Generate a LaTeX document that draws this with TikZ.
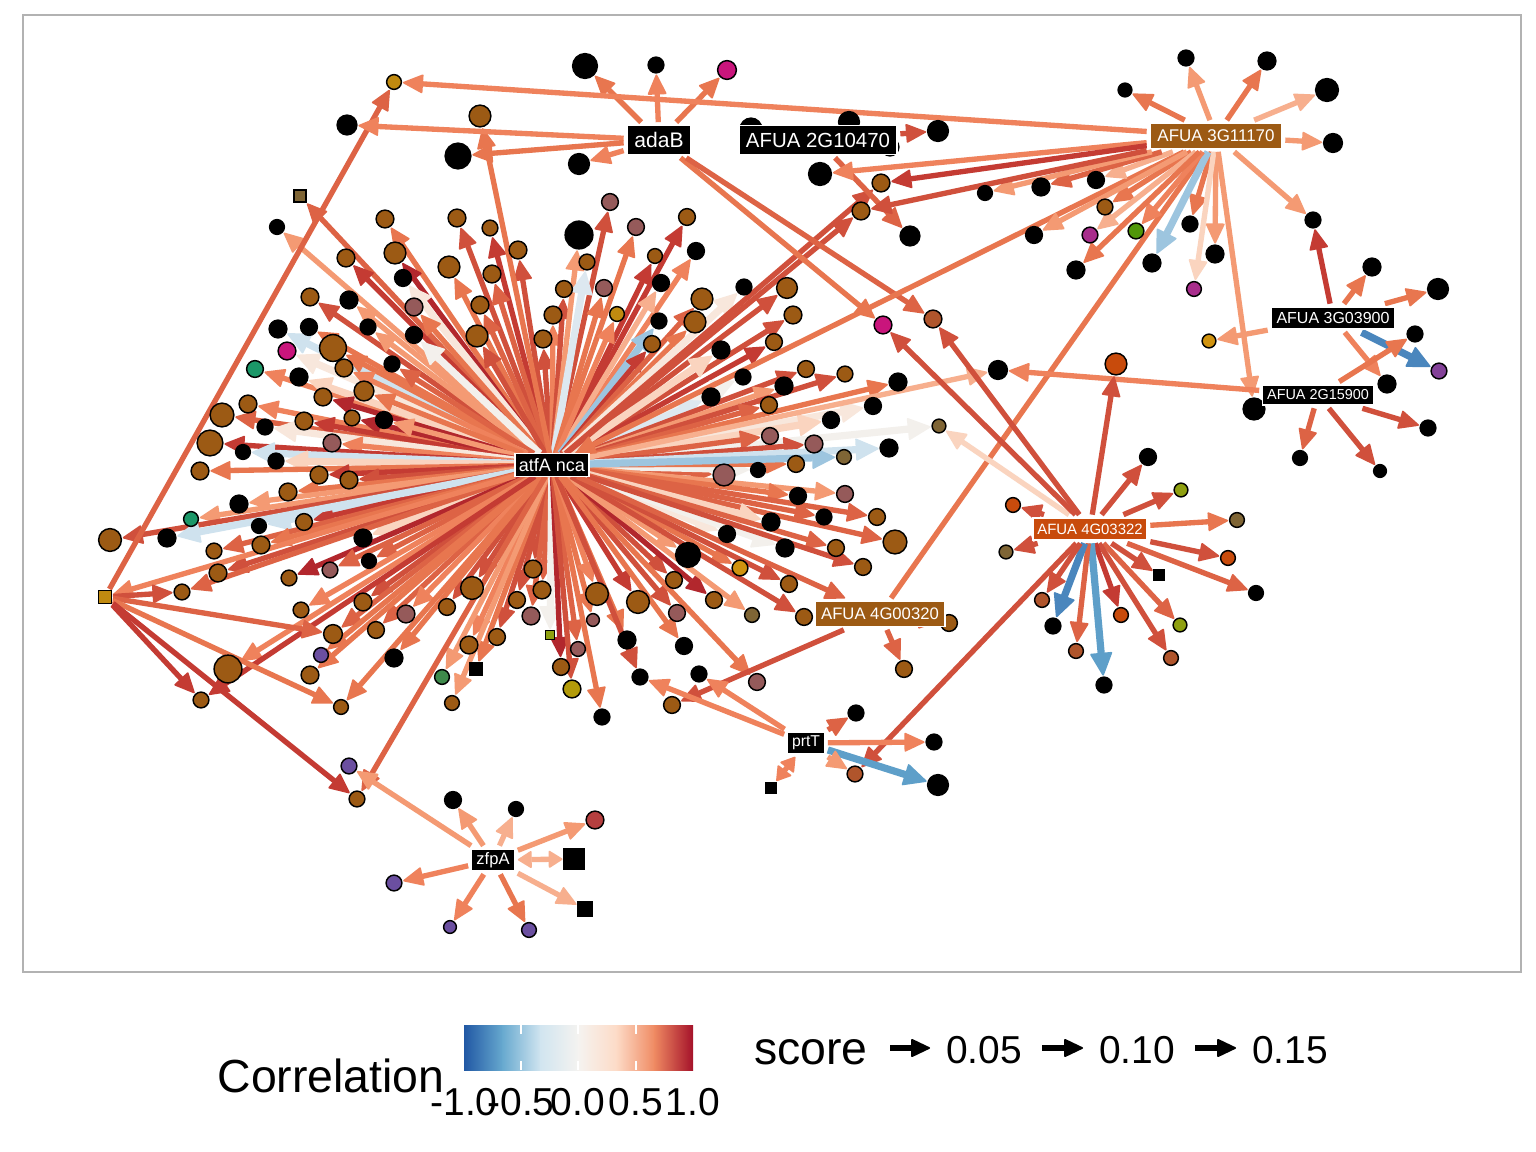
\documentclass[tikz,border=0pt]{standalone}
\usepackage{fontspec}
\setmainfont{Liberation Sans}
\usetikzlibrary{arrows.meta,backgrounds}

% edge colours
\definecolor{rd1}{HTML}{B2272D}
\definecolor{rd2}{HTML}{C43B33}
\definecolor{rd3}{HTML}{D0503C}
\definecolor{rd4}{HTML}{DD6345}
\definecolor{rd5}{HTML}{E8764F}
\definecolor{rd6}{HTML}{EF825C}
\definecolor{rd7}{HTML}{F49A73}
\definecolor{rd8}{HTML}{F7AF8E}
\definecolor{rd9}{HTML}{FAD4BF}
\definecolor{rd10}{HTML}{F8E7DC}
\definecolor{rd11}{HTML}{F3F0EC}
\definecolor{bl1}{HTML}{DDE8F0}
\definecolor{bl2}{HTML}{CFE2EE}
\definecolor{bl3}{HTML}{9DC5DF}
\definecolor{bl4}{HTML}{5E9FC9}
\definecolor{bl5}{HTML}{4A86BD}
% colour bar stops
\definecolor{cb1}{HTML}{2158A4}
\definecolor{cb2}{HTML}{67A9CF}
\definecolor{cb3}{HTML}{D1E5F0}
\definecolor{cb4}{HTML}{F5F3F0}
\definecolor{cb5}{HTML}{FDDBC7}
\definecolor{cb6}{HTML}{EF8A62}
\definecolor{cb7}{HTML}{A5122A}
% node colours
\definecolor{nbr}{HTML}{9C5A14}
\definecolor{nma}{HTML}{955A5A}
\definecolor{nmg}{HTML}{C9157C}
\definecolor{ngr}{HTML}{1B9768}
\definecolor{ngs}{HTML}{3E8A4B}
\definecolor{npu}{HTML}{6B4FA0}
\definecolor{nvi}{HTML}{A82D8C}
\definecolor{nor}{HTML}{C84B0C}
\definecolor{nrs}{HTML}{B0552C}
\definecolor{nol}{HTML}{8FA010}
\definecolor{nta}{HTML}{7F6535}
\definecolor{nam}{HTML}{C08A10}
\definecolor{nye}{HTML}{B39B09}
\definecolor{ngd}{HTML}{D0930F}

\tikzset{
  leaf/.style={circle, draw=black, fill=#1, line width=1.1pt, inner sep=0pt, outer sep=1.2pt},
  sqleaf/.style={rectangle, draw=black, fill=#1, line width=1.1pt, inner sep=0pt, outer sep=1.2pt},
  sz/.style={minimum size=#1*0.75pt+1.3pt},
  hub/.style={rectangle, fill=#1, draw=white, line width=0.8pt, text=white, inner sep=0pt, outer sep=2.5pt},
  box/.style 2 args={minimum width=#1*0.75pt+1.5pt, minimum height=#2*0.75pt+1.5pt},
  fs/.style={font=\fontsize{#1}{#1}\selectfont},
  ed/.style={draw=#1, line width=4pt, -{Triangle[length=16pt,width=14.5pt,line width=1.3pt,round]}},
  eb/.style={draw=#1, line width=5.4pt, -{Triangle[length=18pt,width=17pt,line width=1.3pt,round]}},
  both/.style={{Triangle[length=11pt,width=13.5pt,line width=1.3pt,round]}-{Triangle[length=11pt,width=13.5pt,line width=1.3pt,round]}},
  keyarrow/.style={draw=black, line width=3.8pt, -{Triangle[length=15pt,width=14pt,line width=1.3pt,round]}},
  barshade/.style 2 args={left color=#1, right color=#2},
  barmark/.style={white, line width=0.8pt},
  legendtext/.style={fs=#1, inner sep=0pt}
}

\begin{document}
\begin{tikzpicture}[x=0.75pt, y=-0.75pt]
    \useasboundingbox (0,0) rectangle (1536,1152);

    % atfA nca targets, upper left
    \node (n1) [sqleaf=nta, sz=10] at (300,196) {};
    \node (n2) [leaf=black, sz=13] at (277,227) {};
    \node (n3) [leaf=nbr, sz=16] at (385,219) {};
    \node (n4) [leaf=nbr, sz=16] at (457,218) {};
    \node (n5) [leaf=nbr, sz=14] at (490,228) {};
    \node (n6) [leaf=nbr, sz=16] at (518,250) {};
    \node (n7) [leaf=nbr, sz=16] at (346,258) {};
    \node (n8) [leaf=nbr, sz=20] at (395,253) {};
    \node (n9) [leaf=nbr, sz=20] at (449,267) {};
    \node (n10) [leaf=nbr, sz=16] at (492,274) {};
    \node (n11) [leaf=black, sz=15] at (403,278) {};
    \node (n12) [leaf=nbr, sz=16] at (310,297) {};
    \node (n13) [leaf=black, sz=16] at (349,300) {};
    \node (n14) [leaf=nma, sz=16] at (414,307) {};
    \node (n15) [leaf=nbr, sz=16] at (480,305) {};
    \node (n16) [leaf=nbr, sz=20] at (477,336) {};
    \node (n17) [leaf=nbr, sz=16] at (543,339) {};
    \node (n18) [leaf=nbr, sz=16] at (553,315) {};
    \node (n19) [leaf=nbr, sz=15] at (564,289) {};
    \node (n20) [leaf=black, sz=16] at (278,329) {};
    \node (n21) [leaf=black, sz=15] at (309,327) {};
    \node (n22) [leaf=black, sz=14] at (368,327) {};
    \node (n23) [leaf=nbr, sz=25] at (333,348) {};
    \node (n24) [leaf=black, sz=15] at (414,335) {};
    \node (n25) [leaf=black, sz=14] at (392,364) {};
    \node (n26) [leaf=nmg, sz=16] at (287,351) {};
    \node (n27) [leaf=nbr, sz=16] at (344,368) {};
    \node (n28) [leaf=ngr, sz=15] at (255,369) {};
    \node (n29) [leaf=black, sz=16] at (299,377) {};
    \node (n30) [leaf=nbr, sz=16] at (323,397) {};
    \node (n31) [leaf=nbr, sz=18] at (364,391) {};
    \node (n32) [leaf=nbr, sz=16] at (248,404) {};
    \node (n33) [leaf=nbr, sz=22] at (222,415) {};
    \node (n34) [leaf=nbr, sz=14] at (352,418) {};
    \node (n35) [leaf=black, sz=15] at (384,420) {};
    \node (n36) [leaf=nbr, sz=16] at (304,421) {};
    \node (n37) [leaf=black, sz=14] at (265,427) {};
    \node (n38) [leaf=nma, sz=16] at (332,443) {};
    \node (n39) [leaf=nbr, sz=24] at (210,443) {};
    \node (n40) [leaf=black, sz=13] at (243,452) {};
    \node (n41) [leaf=black, sz=14] at (276,461) {};
    \node (n42) [leaf=nbr, sz=16] at (200,471) {};

    % atfA nca targets, lower left
    \node (n43) [leaf=nbr, sz=16] at (319,475) {};
    \node (n44) [leaf=nbr, sz=16] at (349,480) {};
    \node (n45) [leaf=nbr, sz=16] at (288,492) {};
    \node (n46) [leaf=black, sz=16] at (239,504) {};
    \node (n47) [leaf=ngr, sz=13] at (191,519) {};
    \node (n48) [leaf=black, sz=13] at (259,526) {};
    \node (n49) [leaf=nbr, sz=15] at (304,522) {};
    \node (n50) [leaf=nbr, sz=21] at (110,540) {};
    \node (n51) [leaf=black, sz=16] at (167,538) {};
    \node (n52) [leaf=nbr, sz=14] at (214,551) {};
    \node (n53) [leaf=nbr, sz=16] at (261,545) {};
    \node (n54) [leaf=black, sz=16] at (363,538) {};
    \node (n55) [leaf=nbr, sz=16] at (218,573) {};
    \node (n56) [leaf=nbr, sz=14] at (182,592) {};
    \node (n57) [leaf=nbr, sz=14] at (289,578) {};
    \node (n58) [leaf=nma, sz=14] at (330,570) {};
    \node (n59) [leaf=black, sz=13] at (369,561) {};
    \node (n60) [leaf=nbr, sz=14] at (301,610) {};
    \node (n61) [leaf=nbr, sz=16] at (363,602) {};
    \node (n62) [leaf=nbr, sz=17] at (333,634) {};
    \node (n63) [leaf=nbr, sz=15] at (376,630) {};
    \node (n64) [leaf=nma, sz=16] at (406,614) {};
    \node (n65) [leaf=nbr, sz=15] at (447,607) {};
    \node (n66) [leaf=nbr, sz=21] at (472,588) {};
    \node (n67) [leaf=nbr, sz=16] at (533,569) {};
    \node (n68) [leaf=nbr, sz=16] at (542,590) {};
    \node (n69) [leaf=nbr, sz=15] at (517,600) {};
    \node (n70) [leaf=nma, sz=16] at (531,616) {};
    \node (n71) [leaf=nbr, sz=15] at (497,637) {};
    \node (n72) [leaf=nbr, sz=16] at (469,645) {};
    \node (n73) [leaf=npu, sz=13] at (321,655) {};
    \node (n74) [leaf=nbr, sz=16] at (310,675) {};
    \node (n75) [leaf=black, sz=16] at (394,658) {};
    \node (n76) [leaf=nbr, sz=26] at (228,669) {};
    \node (n77) [leaf=nbr, sz=14] at (201,700) {};
    \node (n78) [leaf=nbr, sz=13] at (341,707) {};
    \node (n79) [leaf=ngs, sz=13] at (442,677) {};
    \node (n80) [sqleaf=black, sz=10] at (476,669) {};
    \node (n81) [leaf=nbr, sz=13] at (452,703) {};
    \node (n82) [sqleaf=nol, sz=7] at (550,635) {};
    \node (n83) [leaf=nbr, sz=15] at (561,667) {};
    \node (n84) [leaf=nma, sz=13] at (578,649) {};
    \node (n85) [leaf=nma, sz=11] at (593,620) {};
    \node (n86) [leaf=nye, sz=16] at (572,689) {};
    \node (n87) [leaf=black, sz=14] at (602,717) {};
    \node (n88) [leaf=nbr, sz=21] at (597,594) {};
    \node (n89) [leaf=nbr, sz=21] at (638,602) {};
    \node (n90) [leaf=black, sz=16] at (627,640) {};
    \node (n91) [leaf=black, sz=14] at (640,677) {};
    \node (n92) [leaf=nbr, sz=14] at (357,799) {};

    % atfA nca targets, lower right
    \node (n93) [leaf=nma, sz=20] at (724,475) {};
    \node (n94) [leaf=black, sz=13] at (758,470) {};
    \node (n95) [leaf=nbr, sz=15] at (796,464) {};
    \node (n96) [leaf=nma, sz=15] at (845,494) {};
    \node (n97) [leaf=black, sz=15] at (798,496) {};
    \node (n98) [leaf=nbr, sz=15] at (877,517) {};
    \node (n99) [leaf=black, sz=14] at (824,517) {};
    \node (n100) [leaf=nbr, sz=22] at (895,542) {};
    \node (n101) [leaf=black, sz=16] at (771,522) {};
    \node (n102) [leaf=black, sz=15] at (727,534) {};
    \node (n103) [leaf=black, sz=16] at (785,548) {};
    \node (n104) [leaf=nbr, sz=15] at (836,548) {};
    \node (n105) [leaf=nbr, sz=15] at (863,567) {};
    \node (n106) [leaf=ngd, sz=14] at (740,568) {};
    \node (n107) [leaf=nbr, sz=15] at (789,584) {};
    \node (n108) [leaf=black, sz=23] at (688,555) {};
    \node (n109) [leaf=nbr, sz=15] at (674,580) {};
    \node (n110) [leaf=nbr, sz=15] at (714,600) {};
    \node (n111) [leaf=nta, sz=13] at (752,615) {};
    \node (n112) [leaf=nbr, sz=15] at (804,617) {};
    \node (n113) [leaf=nma, sz=15] at (677,613) {};
    \node (n114) [leaf=black, sz=15] at (684,646) {};
    \node (n115) [leaf=nma, sz=15] at (757,682) {};

    % atfA nca targets, upper right
    \node (n116) [leaf=nma, sz=15] at (610,202) {};
    \node (n117) [leaf=black, sz=26] at (579,235) {};
    \node (n118) [leaf=nma, sz=15] at (636,227) {};
    \node (n119) [leaf=nbr, sz=15] at (687,217) {};
    \node (n120) [leaf=nbr, sz=13] at (655,256) {};
    \node (n121) [leaf=black, sz=15] at (696,251) {};
    \node (n122) [leaf=nbr, sz=14] at (587,262) {};
    \node (n123) [leaf=black, sz=15] at (661,283) {};
    \node (n124) [leaf=nma, sz=15] at (604,288) {};
    \node (n125) [leaf=nam, sz=13] at (617,314) {};
    \node (n126) [leaf=black, sz=14] at (659,321) {};
    \node (n127) [leaf=nbr, sz=15] at (652,344) {};
    \node (n128) [leaf=nbr, sz=20] at (702,299) {};
    \node (n129) [leaf=nbr, sz=20] at (695,322) {};
    \node (n130) [leaf=black, sz=14] at (744,287) {};
    \node (n131) [leaf=nbr, sz=19] at (787,288) {};
    \node (n132) [leaf=nbr, sz=16] at (793,315) {};
    \node (n133) [leaf=nbr, sz=15] at (774,342) {};
    \node (n134) [leaf=black, sz=16] at (721,350) {};
    \node (n135) [leaf=black, sz=14] at (743,377) {};
    \node (n136) [leaf=black, sz=16] at (711,397) {};
    \node (n137) [leaf=nbr, sz=15] at (806,369) {};
    \node (n138) [leaf=black, sz=16] at (784,386) {};
    \node (n139) [leaf=nbr, sz=14] at (845,374) {};
    \node (n140) [leaf=nbr, sz=15] at (769,405) {};
    \node (n141) [leaf=black, sz=16] at (898,382) {};
    \node (n142) [leaf=black, sz=15] at (873,406) {};
    \node (n143) [leaf=black, sz=15] at (831,420) {};
    \node (n144) [leaf=nta, sz=12] at (939,426) {};
    \node (n145) [leaf=nma, sz=15] at (770,436) {};
    \node (n146) [leaf=nma, sz=16] at (814,444) {};
    \node (n147) [leaf=black, sz=16] at (889,448) {};
    \node (n148) [leaf=nta, sz=13] at (844,457) {};
    \node (n149) [leaf=black, sz=17] at (998,370) {};
    \node (n150) [leaf=nbr, sz=16] at (861,211) {};
    \node (n151) [leaf=nbr, sz=16] at (881,183) {};
    \node (n152) [leaf=nbr, sz=20] at (480,116) {};
    \node (sqA) [sqleaf=nam, sz=11] at (105,597) {};

    % adaB targets
    \node (d1) [leaf=black, sz=23] at (585,66) {};
    \node (d2) [leaf=black, sz=14] at (656,65) {};
    \node (d3) [leaf=nmg, sz=17] at (727,70) {};
    \node (d4) [leaf=black, sz=18] at (347,125) {};
    \node (d5) [leaf=black, sz=24] at (458,156) {};
    \node (d6) [leaf=black, sz=19] at (579,164) {};
    \node (d7) [leaf=nmg, sz=16] at (883,325) {};
    \node (d8) [leaf=nrs, sz=16] at (933,319) {};

    % AFUA 2G10470 targets
    \node (e1) [leaf=black, sz=20] at (751,129) {};
    \node (e2) [leaf=black, sz=19] at (849,122) {};
    \node (e3) [leaf=black, sz=16] at (890,147) {};
    \node (e4) [leaf=black, sz=19] at (938,131) {};
    \node (e5) [leaf=black, sz=18] at (910,236) {};

    % AFUA 3G11170 targets
    \node (f1) [leaf=nam, sz=13] at (394,82) {};
    \node (f2) [leaf=black, sz=12] at (1125,90) {};
    \node (f3) [leaf=black, sz=14] at (1186,58) {};
    \node (f4) [leaf=black, sz=16] at (1267,61) {};
    \node (f5) [leaf=black, sz=21] at (1327,90) {};
    \node (f6) [leaf=black, sz=17] at (1333,143) {};
    \node (f7) [leaf=black, sz=14] at (1313,220) {};
    \node (f8) [leaf=black, sz=16] at (1215,254) {};
    \node (f9) [leaf=black, sz=14] at (1190,224) {};
    \node (f10) [leaf=nvi, sz=13] at (1194,289) {};
    \node (f11) [leaf=black, sz=16] at (1152,263) {};
    \node (f12) [leaf=nol!70!green!80!black, sz=14] at (1136,231) {};
    \node (f13) [leaf=nbr, sz=14] at (1105,207) {};
    \node (f14) [leaf=nvi, sz=14] at (1090,235) {};
    \node (f15) [leaf=black, sz=16] at (1076,270) {};
    \node (f16) [leaf=black, sz=15] at (1034,235) {};
    \node (f17) [leaf=black, sz=15] at (1096,180) {};
    \node (f18) [leaf=black, sz=16] at (1041,187) {};
    \node (f19) [leaf=black, sz=13] at (985,193) {};
    \node (f20) [leaf=black, sz=21] at (820,174) {};
    \node (f21) [leaf=black, sz=20] at (1254,409) {};

    % AFUA 3G03900 targets
    \node (g1) [leaf=black, sz=16] at (1372,267) {};
    \node (g2) [leaf=black, sz=19] at (1438,289) {};
    \node (g3) [leaf=npu!60!nvi, sz=14] at (1439,371) {};
    \node (g4) [leaf=black, sz=16] at (1387,384) {};
    \node (g5) [leaf=ngd, sz=12] at (1209,341) {};

    % AFUA 2G15900 targets
    \node (h1) [leaf=black, sz=14] at (1415,334) {};
    \node (h2) [leaf=black, sz=13] at (1300,458) {};
    \node (h3) [leaf=black, sz=11] at (1380,471) {};
    \node (h4) [leaf=black, sz=14] at (1428,428) {};

    % AFUA 4G03322 targets
    \node (j1) [leaf=nor, sz=20] at (1116,364) {};
    \node (j2) [leaf=black, sz=15] at (1148,457) {};
    \node (j3) [leaf=nol, sz=12] at (1181,490) {};
    \node (j4) [leaf=nta, sz=13] at (1237,520) {};
    \node (j5) [leaf=nor, sz=13] at (1228,558) {};
    \node (j6) [leaf=black, sz=13] at (1256,593) {};
    \node (j7) [sqleaf=black, sz=8] at (1159,575) {};
    \node (j8) [leaf=nol, sz=12] at (1180,625) {};
    \node (j9) [leaf=nrs, sz=13] at (1171,658) {};
    \node (j10) [leaf=nor, sz=13] at (1121,615) {};
    \node (j11) [leaf=black, sz=14] at (1104,685) {};
    \node (j12) [leaf=nrs, sz=13] at (1076,651) {};
    \node (j13) [leaf=black, sz=14] at (1053,626) {};
    \node (j14) [leaf=nrs, sz=13] at (1042,600) {};
    \node (j15) [leaf=nta, sz=12] at (1006,552) {};
    \node (j16) [leaf=nor, sz=13] at (1013,505) {};

    % AFUA 4G00320 targets
    \node (k1) [leaf=nbr, sz=15] at (672,705) {};
    \node (k2) [leaf=nbr, sz=15] at (904,669) {};
    \node (k3) [leaf=nbr, sz=15] at (949,623) {};

    % prtT targets
    \node (p1) [leaf=black, sz=14] at (699,674) {};
    \node (p2) [leaf=black, sz=14] at (856,713) {};
    \node (p3) [leaf=black, sz=14] at (934,742) {};
    \node (p4) [leaf=black, sz=19] at (938,785) {};
    \node (p5) [leaf=nrs, sz=14] at (855,774) {};
    \node (p6) [sqleaf=black, sz=9] at (771,788) {};

    % zfpA targets
    \node (z1) [leaf=npu, sz=14] at (349,766) {};
    \node (z2) [leaf=black, sz=15] at (453,800) {};
    \node (z3) [leaf=black, sz=13] at (516,809) {};
    \node (z4) [leaf=nma!70!red, sz=16] at (595,820) {};
    \node (z5) [sqleaf=black, sz=18] at (574,859) {};
    \node (z6) [sqleaf=black, sz=12] at (585,909) {};
    \node (z7) [leaf=npu, sz=13] at (529,930) {};
    \node (z8) [leaf=npu, sz=11] at (450,927) {};
    \node (z9) [leaf=npu, sz=14] at (394,883) {};

    % Labelled genes
    \node (atfA) [hub=black, outer sep=0pt, box={72}{21}, fs=13.5] at (552,465) {atfA nca};
    \node (adaB) [hub=black, box={62}{27}, fs=15.8] at (659,140) {adaB};
    \node (A2G10470) [hub=black, box={156}{27}, fs=15.3] at (818,140) {AFUA 2G10470};
    \node (A3G11170) [hub=nbr, box={130}{23}, fs=12.7] at (1216,136) {AFUA 3G11170};
    \node (A4G00320) [hub=nbr, box={128}{23}, fs=12.5] at (880,614) {AFUA 4G00320};
    \node (A4G03322) [hub=nor, box={112}{20}, fs=11.2] at (1090,529) {AFUA 4G03322};
    \node (A3G03900) [hub=black, box={122}{20}, fs=12] at (1333,318) {AFUA 3G03900};
    \node (A2G15900) [hub=black, box={109}{18}, fs=10.8] at (1318,395) {AFUA 2G15900};
    \node (prtT) [hub=black, box={35}{19}, fs=11.8] at (806,743) {prtT};
    \node (zfpA) [hub=black, box={41}{20}, fs=12.4] at (493,860) {zfpA};

    \begin{scope}[on background layer]
    \fill[white] (0,0) rectangle (1536,1152);
    \draw[gray!60, line width=0.8pt] (23,15) rectangle (1521,972);

    % Arrows from atfA nca
    \draw[ed=rd4] (atfA) -- (n1);
    \draw[ed=rd7] (atfA) -- (n2);
    \draw[ed=rd5] (atfA) -- (n3);
    \draw[ed=rd3] (atfA) -- (n4);
    \draw[ed=rd2] (atfA) -- (n5);
    \draw[ed=rd3] (atfA) -- (n6);
    \draw[ed=rd2] (atfA) -- (n7);
    \draw[ed=rd1] (atfA) -- (n8);
    \draw[ed=rd5] (atfA) -- (n9);
    \draw[ed=rd4] (atfA) -- (n10);
    \draw[eb=rd10] (atfA) -- (n11);
    \draw[ed=rd3] (atfA) -- (n12);
    \draw[ed=rd7] (atfA) -- (n13);
    \draw[ed=rd5] (atfA) -- (n14);
    \draw[ed=rd4] (atfA) -- (n15);
    \draw[ed=rd3] (atfA) -- (n16);
    \draw[ed=rd3] (atfA) -- (n17);
    \draw[ed=rd6] (atfA) -- (n18);
    \draw[ed=rd3] (atfA) -- (n19);
    \draw[eb=bl2] (atfA) -- (n20);
    \draw[ed=rd5] (atfA) -- (n21);
    \draw[ed=rd7] (atfA) -- (n22);
    \draw[ed=rd5] (atfA) -- (n23);
    \draw[eb=rd11] (atfA) -- (n24);
    \draw[ed=rd4] (atfA) -- (n25);
    \draw[eb=rd10] (atfA) -- (n26);
    \draw[ed=rd6] (atfA) -- (n27);
    \draw[ed=rd6] (atfA) -- (n28);
    \draw[eb=rd9] (atfA) -- (n29);
    \draw[ed=rd1] (atfA) -- (n30);
    \draw[ed=rd5] (atfA) -- (n31);
    \draw[ed=rd6] (atfA) -- (n32);
    \draw[ed=rd4] (atfA) -- (n33);
    \draw[ed=rd1] (atfA) -- (n34);
    \draw[ed=rd7] (atfA) -- (n35);
    \draw[ed=rd2] (atfA) -- (n36);
    \draw[eb=rd10] (atfA) -- (n37);
    \draw[ed=rd6] (atfA) -- (n38);
    \draw[ed=rd2] (atfA) -- (n39);
    \draw[eb=bl2] (atfA) -- (n40);
    \draw[eb=rd9] (atfA) -- (n41);
    \draw[ed=rd5] (atfA) -- (n42);
    \draw[ed=rd2] (atfA) -- (n43);
    \draw[ed=rd3] (atfA) -- (n44);
    \draw[ed=rd5] (atfA) -- (n45);
    \draw[ed=rd7] (atfA) -- (n46);
    \draw[ed=rd7] (atfA) -- (n47);
    \draw[eb=bl2] (atfA) -- (n48);
    \draw[ed=rd2] (atfA) -- (n49);
    \draw[ed=rd3] (atfA) -- (n50);
    \draw[eb=bl2] (atfA) -- (n51);
    \draw[ed=rd4] (atfA) -- (n52);
    \draw[ed=rd5] (atfA) -- (n53);
    \draw[eb=rd9] (atfA) -- (n54);
    \draw[ed=rd3] (atfA) -- (n55);
    \draw[ed=rd4] (atfA) -- (n56);
    \draw[ed=rd1] (atfA) -- (n57);
    \draw[ed=rd4] (atfA) -- (n58);
    \draw[ed=rd4] (atfA) -- (n59);
    \draw[ed=rd6] (atfA) -- (n60);
    \draw[ed=rd3] (atfA) -- (n61);
    \draw[ed=rd4] (atfA) -- (n62);
    \draw[ed=rd4] (atfA) -- (n63);
    \draw[ed=rd6] (atfA) -- (n64);
    \draw[ed=rd3] (atfA) -- (n65);
    \draw[ed=rd3] (atfA) -- (n66);
    \draw[ed=rd3] (atfA) -- (n67);
    \draw[ed=rd4] (atfA) -- (n68);
    \draw[ed=rd3] (atfA) -- (n69);
    \draw[ed=rd4] (atfA) -- (n70);
    \draw[ed=rd3] (atfA) -- (n71);
    \draw[ed=rd6] (atfA) -- (n72);
    \draw[ed=rd5] (atfA) -- (n73);
    \draw[ed=rd5] (atfA) -- (n74);
    \draw[ed=rd5] (atfA) -- (n75);
    \draw[ed=rd6] (atfA) -- (n76);
    \draw[ed=rd2] (atfA) -- (n77);
    \draw[ed=rd5] (atfA) -- (n78);
    \draw[ed=rd7] (atfA) -- (n79);
    \draw[ed=rd5] (atfA) -- (n80);
    \draw[ed=rd7] (atfA) -- (n81);
    \draw[eb=rd11] (atfA) -- (n82);
    \draw[ed=rd1] (atfA) -- (n83);
    \draw[ed=rd4] (atfA) -- (n84);
    \draw[ed=rd5] (atfA) -- (n85);
    \draw[ed=rd3] (atfA) -- (n86);
    \draw[ed=rd5] (atfA) -- (n87);
    \draw[ed=rd6] (atfA) -- (n88);
    \draw[ed=rd2] (atfA) -- (n89);
    \draw[ed=rd5] (atfA) -- (n90);
    \draw[ed=rd3] (atfA) -- (n91);
    \draw[ed=rd4] (atfA) -- (n92);
    \draw[ed=rd4] (atfA) -- (n93);
    \draw[eb=rd11] (atfA) -- (n94);
    \draw[ed=rd5] (atfA) -- (n95);
    \draw[ed=rd7] (atfA) -- (n96);
    \draw[ed=rd5] (atfA) -- (n97);
    \draw[ed=rd4] (atfA) -- (n98);
    \draw[ed=rd4] (atfA) -- (n99);
    \draw[ed=rd4] (atfA) -- (n100);
    \draw[eb=rd9] (atfA) -- (n101);
    \draw[eb=rd10] (atfA) -- (n102);
    \draw[eb=rd11] (atfA) -- (n103);
    \draw[ed=rd4] (atfA) -- (n104);
    \draw[ed=rd3] (atfA) -- (n105);
    \draw[ed=rd5] (atfA) -- (n106);
    \draw[ed=rd3] (atfA) -- (n107);
    \draw[ed=rd7] (atfA) -- (n108);
    \draw[ed=rd3] (atfA) -- (n109);
    \draw[ed=rd1] (atfA) -- (n110);
    \draw[ed=rd7] (atfA) -- (n111);
    \draw[ed=rd3] (atfA) -- (n112);
    \draw[ed=rd3] (atfA) -- (n113);
    \draw[ed=rd5] (atfA) -- (n114);
    \draw[ed=rd5] (atfA) -- (n115);
    \draw[ed=rd3] (atfA) -- (n116);
    \draw[ed=rd7] (atfA) -- (n117);
    \draw[ed=rd5] (atfA) -- (n118);
    \draw[ed=rd2] (atfA) -- (n119);
    \draw[ed=rd2] (atfA) -- (n120);
    \draw[ed=rd6] (atfA) -- (n121);
    \draw[eb=bl1] (atfA) -- (n122);
    \draw[ed=rd8] (atfA) -- (n123);
    \draw[ed=rd5] (atfA) -- (n124);
    \draw[ed=rd6] (atfA) -- (n125);
    \draw[eb=bl3] (atfA) -- (n126);
    \draw[ed=rd2] (atfA) -- (n127);
    \draw[ed=rd4] (atfA) -- (n128);
    \draw[ed=rd5] (atfA) -- (n129);
    \draw[eb=rd10] (atfA) -- (n130);
    \draw[ed=rd3] (atfA) -- (n131);
    \draw[ed=rd3] (atfA) -- (n132);
    \draw[ed=rd2] (atfA) -- (n133);
    \draw[eb=rd9] (atfA) -- (n134);
    \draw[eb=rd11] (atfA) -- (n135);
    \draw[eb=bl1] (atfA) -- (n136);
    \draw[ed=rd3] (atfA) -- (n137);
    \draw[ed=rd7] (atfA) -- (n138);
    \draw[ed=rd3] (atfA) -- (n139);
    \draw[ed=rd4] (atfA) -- (n140);
    \draw[ed=rd5] (atfA) -- (n141);
    \draw[eb=rd10] (atfA) -- (n142);
    \draw[eb=rd9] (atfA) -- (n143);
    \draw[eb=rd11] (atfA) -- (n144);
    \draw[ed=rd4] (atfA) -- (n145);
    \draw[ed=rd3] (atfA) -- (n146);
    \draw[eb=bl2] (atfA) -- (n147);
    \draw[eb=bl3] (atfA) -- (n148);
    \draw[ed=rd8] (atfA) -- (n149);
    \draw[ed=rd3] (atfA) -- (n150);
    \draw[ed=rd3] (atfA) -- (n151);
    \draw[ed=rd5] (atfA) -- (n152);
    \draw[ed=rd6] (atfA) -- (sqA);
    \draw[ed=rd4] (atfA) -- (A4G00320);

    % Arrows from the square gene
    \draw[ed=rd4] (sqA) -- (f1);
    \draw[ed=rd3] (sqA) -- (n56);
    \draw[ed=rd4] (sqA) -- (n62);
    \draw[ed=rd5] (sqA) -- (n78);
    \draw[ed=rd2] (sqA) -- (n77);
    \draw[ed=rd2] (sqA) -- (n92);

    % Arrows from adaB
    \draw[ed=rd5] (adaB) -- (d1);
    \draw[ed=rd6] (adaB) -- (d2);
    \draw[ed=rd5] (adaB) -- (d3);
    \draw[ed=rd6] (adaB) -- (d4);
    \draw[ed=rd5] (adaB) -- (d5);
    \draw[ed=rd6] (adaB) -- (d6);
    \draw[ed=rd5] (adaB) -- (d7);
    \draw[ed=rd4] (adaB) -- (d8);

    % Arrows from AFUA 2G10470
    \draw[ed=rd3] (A2G10470) -- (e4);
    \draw[ed=rd4] (A2G10470) -- (e5);

    % Arrows from AFUA 3G11170
    \draw[ed=rd5] (A3G11170) -- (atfA);
    \draw[ed=rd5] (A4G00320) -- (A3G11170);
    \draw[ed=rd6] (A3G11170) -- (f1);
    \draw[ed=rd5] (A3G11170) -- (f2);
    \draw[ed=rd7] (A3G11170) -- (f3);
    \draw[ed=rd5] (A3G11170) -- (f4);
    \draw[ed=rd8] (A3G11170) -- (f5);
    \draw[ed=rd7] (A3G11170) -- (f6);
    \draw[ed=rd7] (A3G11170) -- (f7);
    \draw[ed=rd7] (A3G11170) -- (f8);
    \draw[ed=rd5] (A3G11170) -- (f9);
    \draw[ed=rd9] (A3G11170) -- (f10);
    \draw[eb=bl3] (A3G11170) -- (f11);
    \draw[ed=rd6] (A3G11170) -- (f12);
    \draw[ed=rd5] (A3G11170) -- (f13);
    \draw[ed=rd8] (A3G11170) -- (f14);
    \draw[ed=rd5] (A3G11170) -- (f15);
    \draw[ed=rd7] (A3G11170) -- (f16);
    \draw[ed=rd8] (A3G11170) -- (f17);
    \draw[ed=rd4] (A3G11170) -- (f18);
    \draw[ed=rd7] (A3G11170) -- (f19);
    \draw[ed=rd6] (A3G11170) -- (f20);
    \draw[ed=rd7] (A3G11170) -- (f21);
    \draw[ed=rd2] (A3G11170) -- (n151);
    \draw[ed=rd3] (A3G11170) -- (n150);

    % Arrows from AFUA 3G03900
    \draw[ed=rd2] (A3G03900) -- (f7);
    \draw[ed=rd5] (A3G03900) -- (g1);
    \draw[ed=rd5] (A3G03900) -- (g2);
    \draw[eb=bl5] (A3G03900) -- (g3);
    \draw[ed=rd6] (A3G03900) -- (g4);
    \draw[ed=rd7] (A3G03900) -- (g5);

    % Arrows from AFUA 2G15900
    \draw[ed=rd6] (A2G15900) -- (n149);
    \draw[ed=rd5] (A2G15900) -- (h1);
    \draw[ed=rd4] (A2G15900) -- (h2);
    \draw[ed=rd3] (A2G15900) -- (h3);
    \draw[ed=rd3] (A2G15900) -- (h4);

    % Arrows from AFUA 4G03322
    \draw[ed=rd3] (A4G03322) -- (j1);
    \draw[ed=rd3] (A4G03322) -- (j2);
    \draw[ed=rd3] (A4G03322) -- (j3);
    \draw[ed=rd5] (A4G03322) -- (j4);
    \draw[ed=rd3] (A4G03322) -- (j5);
    \draw[ed=rd4] (A4G03322) -- (j6);
    \draw[ed=rd3] (A4G03322) -- (j7);
    \draw[ed=rd4] (A4G03322) -- (j8);
    \draw[ed=rd3] (A4G03322) -- (j9);
    \draw[ed=rd2] (A4G03322) -- (j10);
    \draw[eb=bl4] (A4G03322) -- (j11);
    \draw[ed=rd4] (A4G03322) -- (j12);
    \draw[eb=bl5] (A4G03322) -- (j13);
    \draw[ed=rd3] (A4G03322) -- (j14);
    \draw[ed=rd3] (A4G03322) -- (j15);
    \draw[ed=rd3] (A4G03322) -- (j16);
    \draw[ed=rd9] (A4G03322) -- (n144);
    \draw[ed=rd3] (A4G03322) -- (d7);
    \draw[ed=rd3] (A4G03322) -- (d8);
    \draw[ed=rd3] (A4G03322) -- (p5);

    % Arrows from AFUA 4G00320
    \draw[ed=rd3] (A4G00320) -- (k1);
    \draw[ed=rd4] (A4G00320) -- (k2);
    \draw[ed=rd4] (A4G00320.center) -- (k3);

    % Arrows from prtT
    \draw[ed=rd6] (prtT) -- (n91);
    \draw[ed=rd6] (prtT) -- (p1);
    \draw[ed=rd4] (prtT) -- (p2);
    \draw[ed=rd6] (prtT) -- (p3);
    \draw[eb=bl4] (prtT) -- (p4);
    \draw[ed=rd7] (prtT) -- (p5);
    \draw[ed=rd6, both] (prtT) -- (p6);

    % Arrows from zfpA
    \draw[ed=rd7] (zfpA) -- (z1);
    \draw[ed=rd7] (zfpA) -- (z2);
    \draw[ed=rd8] (zfpA) -- (z3);
    \draw[ed=rd7] (zfpA) -- (z4);
    \draw[ed=rd8, both] (zfpA) -- (z5);
    \draw[ed=rd8] (zfpA) -- (z6);
    \draw[ed=rd5] (zfpA) -- (z7);
    \draw[ed=rd6] (zfpA) -- (z8);
    \draw[ed=rd6] (zfpA) -- (z9);
    \end{scope}

    % Legend
    \node (corr) [legendtext=34.8] at (331,1076) {Correlation};
    \shade[barshade={cb1}{cb2}] (464,1025) rectangle (503,1070);
    \shade[barshade={cb2}{cb3}] (502,1025) rectangle (541,1070);
    \shade[barshade={cb3}{cb4}] (540,1025) rectangle (579,1070);
    \shade[barshade={cb4}{cb5}] (578,1025) rectangle (617,1070);
    \shade[barshade={cb5}{cb6}] (616,1025) rectangle (655,1070);
    \shade[barshade={cb6}{cb7}] (654,1025) rectangle (693,1070);
    \draw[barmark] (521,1025) -- (521,1034);
    \draw[barmark] (521,1061) -- (521,1070);
    \draw[barmark] (578,1025) -- (578,1034);
    \draw[barmark] (578,1061) -- (578,1070);
    \draw[barmark] (636,1025) -- (636,1034);
    \draw[barmark] (636,1061) -- (636,1070);
    \node (tk1) [legendtext=29.2] at (464,1102) {-1.0};
    \node (tk2) [legendtext=29.2] at (521,1102) {-0.5};
    \node (tk3) [legendtext=29.2] at (578,1102) {0.0};
    \node (tk4) [legendtext=29.2] at (636,1102) {0.5};
    \node (tk5) [legendtext=29.2] at (693,1102) {1.0};
    \node (score) [legendtext=34.8] at (811,1052) {score};
    \coordinate (ka1) at (890,1048);
    \coordinate (ka2) at (930,1048);
    \coordinate (kb1) at (1042,1048);
    \coordinate (kb2) at (1083,1048);
    \coordinate (kc1) at (1195,1048);
    \coordinate (kc2) at (1236,1048);
    \draw[keyarrow] (ka1) -- (ka2);
    \draw[keyarrow] (kb1) -- (kb2);
    \draw[keyarrow] (kc1) -- (kc2);
    \node (lb1) [legendtext=29.2] at (984,1050) {0.05};
    \node (lb2) [legendtext=29.2] at (1137,1050) {0.10};
    \node (lb3) [legendtext=29.2] at (1290,1050) {0.15};
\end{tikzpicture}
\end{document}
